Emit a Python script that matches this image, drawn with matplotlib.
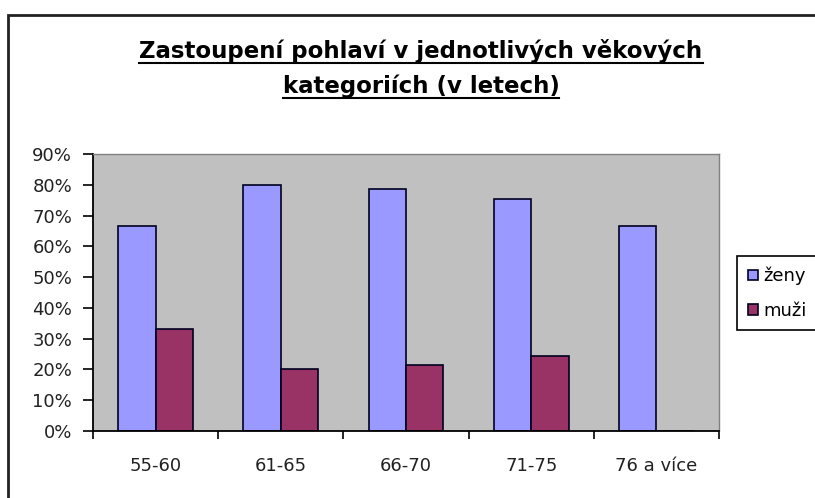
import matplotlib
matplotlib.use("Agg")
import matplotlib.pyplot as plt
from matplotlib.patches import Rectangle
from matplotlib.lines import Line2D
import numpy as np

plt.rcParams["font.family"] = ["DejaVu Sans"]

categories = ["55-60", "61-65", "66-70", "71-75", "76 a více"]
zeny = [66.7, 80.0, 78.6, 75.5, 66.7]
muzi = [33.3, 20.0, 21.4, 24.5, 0.0]
series_labels = ["ženy", "muži"]
title_lines = ["Zastoupení pohlaví v jednotlivých věkových", "kategoriích (v letech)"]
yticks = [0, 10, 20, 30, 40, 50, 60, 70, 80, 90]

W, H = 815, 498
fig = plt.figure(figsize=(W / 100, H / 100), dpi=100)
fig.patch.set_facecolor("white")

ax = fig.add_axes([93 / W, 1 - 431 / H, (719 - 93) / W, (431 - 154) / H])
ax.set_facecolor("#C0C0C0")

x = np.arange(len(categories))
w = 0.298
b1 = ax.bar(x - w / 2, zeny, w, color="#9999FF", edgecolor="#000020", linewidth=1.2, label=series_labels[0])
b2 = ax.bar(x + w / 2, muzi, w, color="#993366", edgecolor="#000020", linewidth=1.2, label=series_labels[1])

ax.set_xlim(-0.5, len(categories) - 0.5)
ax.set_ylim(0, 90)
ax.set_yticks(yticks)
ax.set_yticklabels([f"{v}%" for v in yticks])
ax.set_xticks(np.arange(len(categories) + 1) - 0.5)
ax.set_xticklabels([])
ax.set_xticks(x, minor=True)
ax.set_xticklabels(categories, minor=True)

fs = 13
ax.tick_params(axis="y", direction="out", length=7, width=1.2, pad=8, labelsize=fs, colors="black")
ax.tick_params(axis="x", which="major", direction="out", length=6, width=1.2)
ax.tick_params(axis="x", which="minor", length=0, pad=19, labelsize=fs)
for lab in ax.get_yticklabels() + ax.get_xticklabels(minor=True):
    lab.set_color("#222222")

for s in ["left", "bottom"]:
    ax.spines[s].set_color("black")
    ax.spines[s].set_linewidth(1.3)
for s in ["top", "right"]:
    ax.spines[s].set_color("#808080")
    ax.spines[s].set_linewidth(1.0)

leg = fig.legend(handles=[b1, b2], labels=series_labels, loc="upper left",
                 bbox_to_anchor=(737 / W, 1 - 256 / H), bbox_transform=fig.transFigure,
                 fontsize=13, frameon=True, fancybox=False, edgecolor="black",
                 framealpha=1, borderpad=0.6, labelspacing=0.9,
                 handlelength=0.55, handleheight=0.55, handletextpad=0.3, borderaxespad=0)
leg.get_frame().set_linewidth(1.2)

# outer chart border
fig.patches.append(Rectangle((8 / W, -0.05), 1.2, 1 - 15 / H + 0.05, transform=fig.transFigure,
                             fill=False, edgecolor="#222222", linewidth=2))

# title
tx = 421 / W
baselines = [58, 93]
texts = []
for line, yb in zip(title_lines, baselines):
    t = fig.text(tx, 1 - yb / H, line, ha="center", va="baseline", fontsize=16.5,
                 fontweight="bold", family="DejaVu Sans", color="black")
    texts.append((t, yb))

fig.canvas.draw()
r = fig.canvas.get_renderer()
for t, yb in texts:
    bb = t.get_window_extent(r)
    uy = (H - (yb + 5)) / H
    fig.add_artist(Line2D([bb.x0 / W, bb.x1 / W], [uy, uy], transform=fig.transFigure,
                          color="black", linewidth=1.5))

fig.savefig("out.png", dpi=100)
